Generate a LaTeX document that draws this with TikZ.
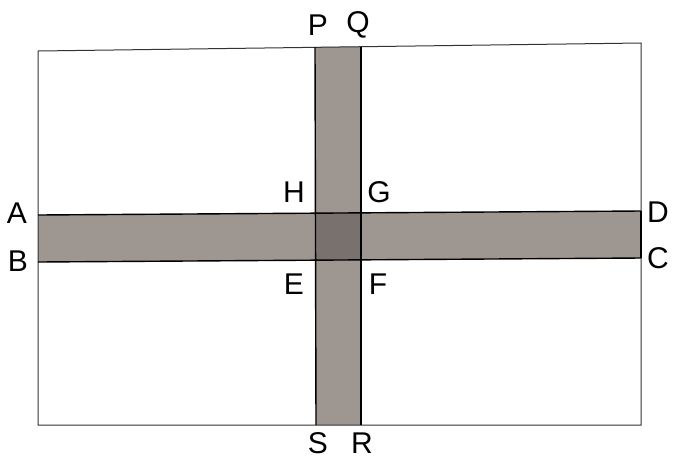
\documentclass[tikz,border=0pt]{standalone}
\usepackage{fontspec}
\setmainfont{Liberation Sans}
\begin{document}
\begin{tikzpicture}[x=1pt,y=-1pt,
  lbl/.style={font=\fontsize{30}{30}\selectfont, inner sep=0pt},
  stripfill/.style={fill=stripgray},
  edge/.style={draw=black, line width=1.4pt}]
\definecolor{stripgray}{RGB}{158,150,145}
\definecolor{centergray}{RGB}{120,113,109}
\useasboundingbox (0,0) rectangle (674,459);
% corners of outer rectangle
\coordinate (TL) at (38,51);
\coordinate (TR) at (641,43);
\coordinate (BR) at (641,425);
\coordinate (BL) at (38,425);
% horizontal strip
\coordinate (A) at (38,215);
\coordinate (B) at (38,262);
\coordinate (D) at (641,211);
\coordinate (C) at (641,258);
% vertical strip
\coordinate (P) at (315,47);
\coordinate (Q) at (361,46.5);
\coordinate (S) at (316,425);
\coordinate (R) at (361,425);
% center
\coordinate (H) at (315,213);
\coordinate (G) at (361,212.5);
\coordinate (E) at (315.5,260.5);
\coordinate (F) at (361,260);
% fills
\fill[stripfill] (A) -- (D) -- (C) -- (B) -- cycle;
\fill[stripfill] (P) -- (Q) -- (R) -- (S) -- cycle;
\fill[centergray] (H) -- (G) -- (F) -- (E) -- cycle;
% outer rectangle
\draw[line width=1pt, draw=black!80] (TL) -- (TR) -- (BR) -- (BL) -- cycle;
% strip edges
\draw[edge] (A) -- (D);
\draw[edge] (B) -- (C);
\draw[edge] (P) -- (S);
\draw[edge] (Q) -- (R);
\draw[edge] (D) -- (C);
% labels
\node[lbl] (lP) at (318,25) {P};
\node[lbl] (lQ) at (358,25) {Q};
\node[lbl] (lH) at (294,192) {H};
\node[lbl] (lG) at (379,192) {G};
\node[lbl] (lE) at (294,284) {E};
\node[lbl] (lF) at (378,284) {F};
\node[lbl] (lA) at (17,213) {A};
\node[lbl] (lB) at (18,261) {B};
\node[lbl] (lD) at (658,212) {D};
\node[lbl] (lC) at (658,258) {C};
\node[lbl] (lS) at (318,443) {S};
\node[lbl] (lR) at (362,443) {R};
\end{tikzpicture}
\end{document}
